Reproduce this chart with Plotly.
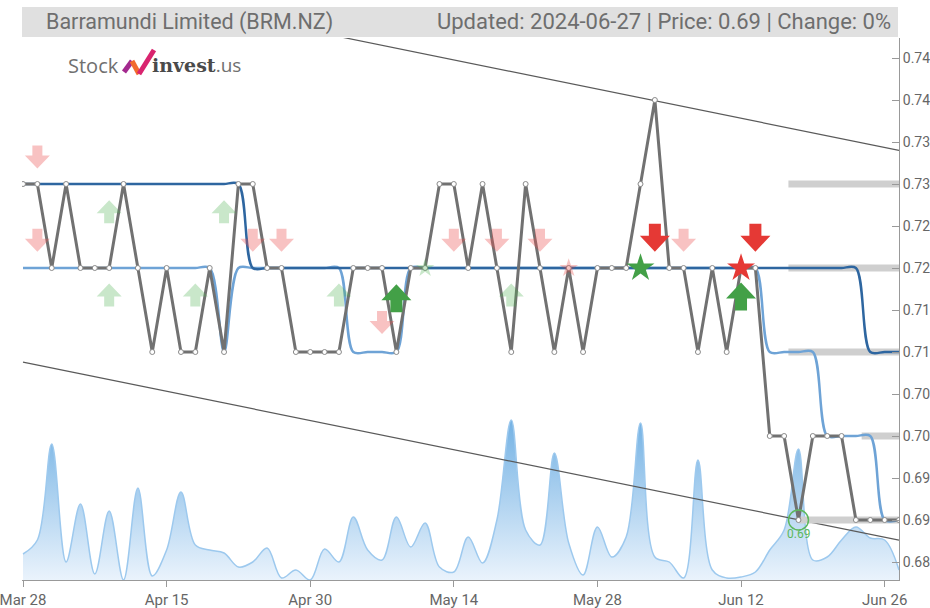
import plotly.graph_objects as go
import pandas as pd

# ---------------- data ----------------
dates = [
    "2024-03-28", "2024-04-02", "2024-04-03", "2024-04-04", "2024-04-05", "2024-04-08",
    "2024-04-09", "2024-04-10", "2024-04-11", "2024-04-12", "2024-04-15", "2024-04-16",
    "2024-04-17", "2024-04-18", "2024-04-19", "2024-04-22", "2024-04-23", "2024-04-24",
    "2024-04-26", "2024-04-29", "2024-04-30", "2024-05-01", "2024-05-02", "2024-05-03",
    "2024-05-06", "2024-05-07", "2024-05-08", "2024-05-09", "2024-05-10", "2024-05-13",
    "2024-05-14", "2024-05-15", "2024-05-16", "2024-05-17", "2024-05-20", "2024-05-21",
    "2024-05-22", "2024-05-23", "2024-05-24", "2024-05-27", "2024-05-28", "2024-05-29",
    "2024-05-30", "2024-05-31", "2024-06-04", "2024-06-05", "2024-06-06", "2024-06-07",
    "2024-06-10", "2024-06-11", "2024-06-12", "2024-06-13", "2024-06-14", "2024-06-17",
    "2024-06-18", "2024-06-19", "2024-06-20", "2024-06-21", "2024-06-24", "2024-06-25",
    "2024-06-26", "2024-06-27",
]

close = [
    0.73, 0.73, 0.72, 0.73, 0.72, 0.72, 0.72, 0.73, 0.72, 0.71,
    0.72, 0.71, 0.71, 0.72, 0.71, 0.73, 0.73, 0.72, 0.72, 0.71,
    0.71, 0.71, 0.71, 0.72, 0.72, 0.72, 0.71, 0.72, 0.72, 0.73,
    0.73, 0.72, 0.73, 0.72, 0.71, 0.73, 0.72, 0.71, 0.72, 0.71,
    0.72, 0.72, 0.72, 0.73, 0.74, 0.72, 0.72, 0.71, 0.72, 0.71,
    0.72, 0.72, 0.70, 0.70, 0.69, 0.70, 0.70, 0.70, 0.69, 0.69,
    0.69, 0.69,
]

ma_short = [0.72] * 14 + [0.71] + [0.72] * 8 + [0.71] * 4 + [0.72] * 25 + [0.71] * 4 + [0.70] * 4 + [0.69] * 2
ma_long = [0.73] * 16 + [0.72] * 43 + [0.71] * 3

volume = [
    26, 40, 136, 18, 76, 6, 69, 0, 92, 4,
    30, 88, 35, 30, 27, 13, 18, 32, 2, 10,
    0, 31, 18, 63, 30, 20, 63, 33, 57, 13,
    8, 43, 17, 60, 160, 50, 35, 127, 37, 5,
    53, 23, 43, 157, 23, 18, 2, 120, 10, 2,
    3, 8, 30, 50, 131, 20, 23, 40, 53, 42,
    40, 10,
]

# trend channel (value at first and last trading day)
channel_upper = [0.7552, 0.7340]
channel_lower = [0.7088, 0.6876]

# support / resistance levels and the index they start from
sr_levels = [0.73, 0.72, 0.71, 0.70, 0.69]
sr_from = [53.3, 53.3, 53.3, 58.4, 54.0]

# signals: index, value, kind
weak_sell_x = [1, 1, 16, 18, 25, 30, 33, 36, 46]
weak_sell_y = [0.7332, 0.7233, 0.7233, 0.7233, 0.7135, 0.7233, 0.7233, 0.7233, 0.7233]
weak_buy_x = [6, 6, 12, 14, 22, 34]
weak_buy_y = [0.7267, 0.7168, 0.7168, 0.7267, 0.7168, 0.7168]
strong_sell_x = [44, 51]
strong_sell_y = [0.7236, 0.7236]
strong_buy_x = [26, 50]
strong_buy_y = [0.7164, 0.7166]
weak_buy_star_x, weak_buy_star_y = [28], [0.72]
weak_sell_star_x, weak_sell_star_y = [38], [0.72]
buy_star_x, buy_star_y = [43], [0.72]
sell_star_x, sell_star_y = [50], [0.72]

last_low_x, last_low_y = [54], [0.69]

title_left = "Barramundi Limited (BRM.NZ)"
title_right = "Updated: 2024-06-27 | Price: 0.69 | Change: 0%"

# ---------------- figure ----------------
idx = list(range(len(dates)))
tick_idx = idx[::10]
tick_text = [pd.Timestamp(dates[i]).strftime("%b %d") for i in tick_idx]

W, H = 930, 608
ML, MR, MT, MB = 22, 31, 38, 28
PW, PH = W - ML - MR, H - MT - MB


def pxx(x):  # window pixel -> paper fraction
    return (x - ML) / PW


def pxy(y):
    return (H - MB - y) / PH


fig = go.Figure()

# volume (behind everything)
fig.add_trace(go.Scatter(
    x=idx, y=volume, yaxis="y", mode="lines", line=dict(color="#9dc9ee", width=1.5, shape="spline"),
    fill="tozeroy",
    fillgradient=dict(type="vertical", colorscale=[[0, "#eaf3fc"], [1, "#74b2e4"]], start=0, stop=max(volume)),
    hoverinfo="skip",
))

# trend channel
last = idx[-1]
for ch in (channel_upper, channel_lower):
    fig.add_trace(go.Scatter(x=[0, last], y=ch, yaxis="y2", mode="lines",
                             line=dict(color="#5a5a5a", width=1.2), hoverinfo="skip"))

# support / resistance bars
for lvl, x0 in zip(sr_levels, sr_from):
    fig.add_trace(go.Scatter(x=[x0, last], y=[lvl, lvl], yaxis="y2", mode="lines",
                             line=dict(color="#cfcfcf", width=7), hoverinfo="skip"))

# moving averages
fig.add_trace(go.Scatter(x=idx, y=ma_short, yaxis="y2", mode="lines",
                         line=dict(color="#6ea3d6", width=2.5, shape="spline", smoothing=0.9)))
fig.add_trace(go.Scatter(x=idx, y=ma_long, yaxis="y2", mode="lines",
                         line=dict(color="#2e66a0", width=2.5, shape="spline", smoothing=0.9)))

# price
fig.add_trace(go.Scatter(x=idx, y=close, yaxis="y2", mode="lines+markers",
                         line=dict(color="#717171", width=3),
                         marker=dict(size=5, color="white", line=dict(color="#8a8a8a", width=1))))

# stars
fig.add_trace(go.Scatter(x=weak_buy_star_x, y=weak_buy_star_y, yaxis="y2", mode="markers",
                         marker=dict(symbol="star", size=14, color="rgba(76,175,80,0.30)", line=dict(width=0))))
fig.add_trace(go.Scatter(x=weak_sell_star_x, y=weak_sell_star_y, yaxis="y2", mode="markers",
                         marker=dict(symbol="star", size=14, color="rgba(229,57,53,0.30)", line=dict(width=0))))
fig.add_trace(go.Scatter(x=buy_star_x, y=buy_star_y, yaxis="y2", mode="markers",
                         marker=dict(symbol="star", size=21, color="#43a047", line=dict(width=0))))
fig.add_trace(go.Scatter(x=sell_star_x, y=sell_star_y, yaxis="y2", mode="markers",
                         marker=dict(symbol="star", size=21, color="#e53935", line=dict(width=0))))

# last low circle
fig.add_trace(go.Scatter(x=last_low_x, y=last_low_y, yaxis="y2", mode="markers",
                         marker=dict(symbol="circle-open", size=20, color="#5cb85c", line=dict(width=1.5))))


def arrow_path(w, h, sw, sh, down):
    s = 1 if down else -1
    pts = [(-sw / 2, s * h / 2), (sw / 2, s * h / 2), (sw / 2, s * (h / 2 - sh)), (w / 2, s * (h / 2 - sh)),
           (0, -s * h / 2), (-w / 2, s * (h / 2 - sh)), (-sw / 2, s * (h / 2 - sh))]
    return "M" + " L".join(f"{x:.1f},{y:.1f}" for x, y in pts) + " Z"


shapes = []


def add_arrows(xs, ys, color, w, h, sw, sh, down):
    for x, y in zip(xs, ys):
        shapes.append(dict(type="path", xref="x", yref="y2", xsizemode="pixel", ysizemode="pixel",
                           xanchor=x, yanchor=y, path=arrow_path(w, h, sw, sh, down),
                           fillcolor=color, line=dict(width=0), layer="above"))


add_arrows(weak_sell_x, weak_sell_y, "rgba(235,80,80,0.35)", 25, 23, 10, 10, True)
add_arrows(weak_buy_x, weak_buy_y, "rgba(76,175,80,0.30)", 25, 23, 10, 10, False)
add_arrows(strong_sell_x, strong_sell_y, "#e53935", 30, 28, 12, 12, True)
add_arrows(strong_buy_x, strong_buy_y, "#43a047", 30, 28, 12, 12, False)

# title bar
shapes.append(dict(type="rect", xref="paper", yref="paper", x0=pxx(22), x1=pxx(898), y0=pxy(37), y1=pxy(7),
                   fillcolor="#e0e0e0", line=dict(width=0), layer="below"))

# logo check mark
for (xa, ya, xb, yb, col) in [(124, 72, 132, 61, "#a3298e"), (132, 61, 139, 74, "#f26a2e"),
                               (139, 74, 154, 50, "#d9246f")]:
    shapes.append(dict(type="line", xref="paper", yref="paper", x0=pxx(xa), y0=pxy(ya), x1=pxx(xb), y1=pxy(yb),
                       line=dict(color=col, width=5)))

annotations = [
    dict(xref="paper", yref="paper", x=pxx(44), y=pxy(22), xanchor="left", yanchor="middle",
         text=title_left, showarrow=False, font=dict(family="Roboto", size=21.5, color="#6e6e6e")),
    dict(xref="paper", yref="paper", x=pxx(893), y=pxy(22), xanchor="right", yanchor="middle",
         text=title_right, showarrow=False, font=dict(family="Roboto", size=22, color="#6e6e6e")),
    dict(xref="paper", yref="paper", x=pxx(66), y=pxy(65), xanchor="left", yanchor="middle",
         text="Stock", showarrow=False, font=dict(family="Open Sans", size=20, color="#707070")),
    dict(xref="paper", yref="paper", x=pxx(150), y=pxy(65), xanchor="left", yanchor="middle",
         text="<b>invest</b><span style='font-family:Open Sans;font-weight:normal;color:#707070'>.us</span>",
         showarrow=False, font=dict(family="DejaVu Serif", size=19, color="#4a4a4a")),
    dict(xref="x", yref="y2", x=last_low_x[0], y=last_low_y[0], yshift=-14, text=f"{last_low_y[0]:.2f}",
         showarrow=False, font=dict(family="Roboto", size=12, color="#5cb85c")),
]

y_ticks = [round(0.685 + 0.005 * i, 3) for i in range(13)]

fig.update_layout(
    width=W, height=H, template="none",
    margin=dict(l=ML, r=MR, t=MT, b=MB, pad=0),
    paper_bgcolor="white", plot_bgcolor="white",
    showlegend=False,
    font=dict(family="Roboto", color="#666666"),
    xaxis=dict(range=[-0.07, 61.0], tickvals=tick_idx, ticktext=tick_text, showgrid=False, zeroline=False,
               showline=True, linecolor="#999999", linewidth=1, ticks="outside", ticklen=6, tickcolor="#999999",
               tickfont=dict(family="Roboto", size=15, color="#666666"), automargin=False,
               ticklabeloverflow="allow"),
    yaxis=dict(range=[0, PH], visible=False, showgrid=False, zeroline=False, automargin=False),
    yaxis2=dict(overlaying="y", side="right", range=[0.682857, 0.747381], tickvals=y_ticks,
                ticktext=[f"{v:.3f}" for v in y_ticks], showgrid=False, zeroline=False,
                showline=True, linecolor="#999999", linewidth=1, ticks="inside", ticklen=7, tickcolor="#999999",
                tickfont=dict(family="Roboto", size=14, color="#666666"), automargin=False,
                ticklabeloverflow="allow"),
    shapes=shapes, annotations=annotations,
)

fig.write_html("out.html", config={"displayModeBar": False},
               post_script="document.body.style.margin='0';")
